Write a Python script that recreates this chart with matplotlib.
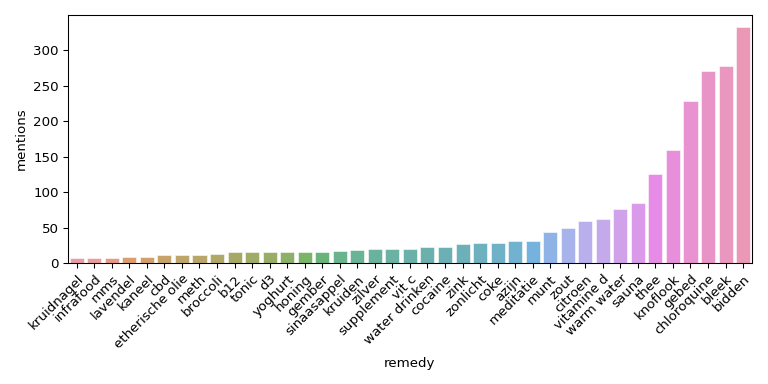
import numpy as np
import matplotlib
matplotlib.use("Agg")
import matplotlib.pyplot as plt
import seaborn as sns

remedies = ['kruidnagel', 'infrafood', 'mms', 'lavendel', 'kaneel', 'cbd',
            'etherische olie', 'meth', 'broccoli', 'b12', 'tonic', 'd3',
            'yoghurt', 'honing', 'gember', 'sinaasappel', 'kruiden', 'zilver',
            'supplement', 'vit c', 'water drinken', 'cocaine', 'zink',
            'zonlicht', 'coke', 'azijn', 'meditatie', 'munt', 'zout',
            'citroen', 'vitamine d', 'warm water', 'sauna', 'thee',
            'knoflook', 'gebed', 'chloroquine', 'bleek', 'bidden']
mentions = [7, 7, 7, 9, 9, 11, 12, 12, 13, 15, 15, 15, 15, 15,
            16, 17, 19, 20, 20, 20, 23, 23, 27, 28, 28, 31, 31,
            44, 50, 59, 62, 76, 85, 125, 159, 229, 271, 278, 333]

# seaborn style colours: husl palette, desaturated
colors = [sns.desaturate(c, 0.75) for c in sns.husl_palette(len(remedies))]

fig = plt.figure(figsize=(8, 4), dpi=96)
ax = fig.add_axes([0.0885, 0.315, 0.8905, 0.646])
x = np.arange(len(remedies))
ax.bar(x, mentions, width=0.8, color=colors, alpha=0.8,
       edgecolor='white', linewidth=0.5)
ax.set_xlim(-0.5, len(remedies) - 0.5)
ax.set_xticks(x)
ax.set_xticklabels(remedies, rotation=45, ha='right', rotation_mode='anchor')
ax.set_xlabel('remedy')
ax.set_ylabel('mentions')

fig.savefig('out.png')
